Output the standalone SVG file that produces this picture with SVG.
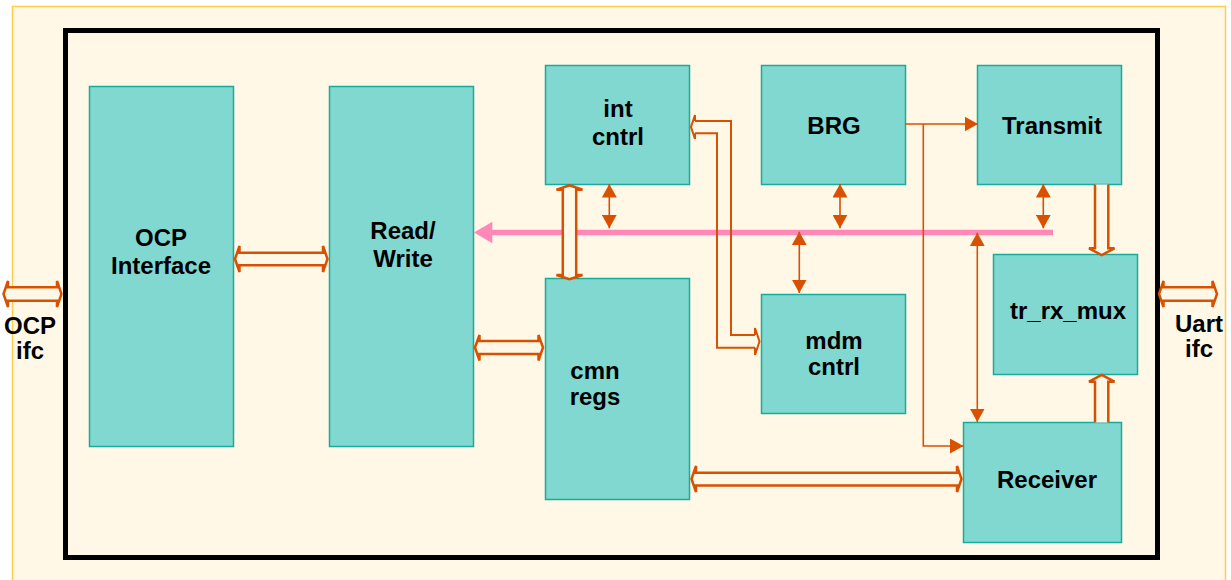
<svg xmlns="http://www.w3.org/2000/svg" width="1231" height="580" viewBox="0 0 1231 580">
<style>
.node rect{fill:#80D8D0;stroke:#18AC9C;stroke-width:1.5}
.lbl{font-family:"Liberation Sans",Arial,sans-serif;font-weight:bold;font-size:24px;fill:#000;text-anchor:middle}
.hol{fill:#FFF8E7;stroke:#D85000;stroke-width:2.5;stroke-linejoin:miter}
.thin{fill:none;stroke:#D85000;stroke-width:2}
.sol{fill:none;stroke:#D85000;stroke-width:1.6;marker-start:url(#tri);marker-end:url(#tri)}
.one{fill:none;stroke:#D85000;stroke-width:1.6;marker-end:url(#tri)}
</style>
<defs>
<marker id="tri" markerUnits="userSpaceOnUse" viewBox="0 0 13.5 15" refX="13.5" refY="7.5" markerWidth="13.5" markerHeight="15" orient="auto-start-reverse">
<path d="M0,0 L13.5,7.5 L0,15 Z" fill="#D85000"/>
</marker>
</defs>
<rect x="0" y="0" width="1231" height="580" fill="#FFFFFF"/>
<rect x="12.5" y="6.5" width="1213" height="600" fill="#FFF8E7" stroke="#FFCC50" stroke-width="1.5"/>
<rect x="65.5" y="30.5" width="1092" height="527" fill="none" stroke="#000" stroke-width="5"/>

<g id="ocp-interface" class="node"><rect x="89.5" y="86.5" width="144" height="360"/><text class="lbl" x="161" y="246">OCP</text><text class="lbl" x="161" y="274">Interface</text></g>
<g id="read-write" class="node"><rect x="329.5" y="86.5" width="144" height="360"/><text class="lbl" x="403" y="239">Read/</text><text class="lbl" x="403" y="267">Write</text></g>
<g id="int-cntrl" class="node"><rect x="545.5" y="65.5" width="144" height="119"/><text class="lbl" x="618" y="117">int</text><text class="lbl" x="618" y="145">cntrl</text></g>
<g id="cmn-regs" class="node"><rect x="545.5" y="278.5" width="144" height="221"/><text class="lbl" x="595" y="379">cmn</text><text class="lbl" x="595" y="405">regs</text></g>
<g id="brg" class="node"><rect x="761.5" y="65.5" width="144" height="119"/><text class="lbl" x="834" y="134">BRG</text></g>
<g id="mdm-cntrl" class="node"><rect x="761.5" y="294.5" width="144" height="119"/><text class="lbl" x="834" y="349">mdm</text><text class="lbl" x="834" y="375">cntrl</text></g>
<g id="transmit" class="node"><rect x="977.5" y="65.5" width="144" height="119"/><text class="lbl" x="1052" y="134">Transmit</text></g>
<g id="tr-rx-mux" class="node"><rect x="993.5" y="254.5" width="144" height="120"/><text class="lbl" x="1068" y="319">tr_rx_mux</text></g>
<g id="receiver" class="node"><rect x="963.5" y="422.5" width="158" height="120"/><text class="lbl" x="1047" y="488">Receiver</text></g>
<g id="ext-labels">
<text class="lbl" x="30" y="334">OCP</text><text class="lbl" x="30" y="359">ifc</text>
<text class="lbl" x="1199" y="332">Uart</text><text class="lbl" x="1199" y="357">ifc</text>
</g>

<g id="connectors">
<line x1="1053" y1="232.5" x2="490" y2="232.5" stroke="#FF88B8" stroke-width="5.5"/>
<polygon points="474,232.5 492.3,221.7 492.3,243.3" fill="#FF88B8"/>
<path class="hol" d="M3.5,294 L8,281 L8,287.2 L57,287.2 L57,281 L61.5,294 L57,307 L57,300.8 L8,300.8 L8,307 Z"/>
<path class="hol" d="M1159,294 L1163.5,281 L1163.5,287.2 L1212.5,287.2 L1212.5,281 L1217,294 L1212.5,307 L1212.5,300.8 L1163.5,300.8 L1163.5,307 Z"/>
<path class="hol" d="M235,259 L239.5,246 L239.5,252.7 L323,252.7 L323,246 L327.5,259 L323,272 L323,265.3 L239.5,265.3 L239.5,272 Z"/>
<path class="hol" d="M475,347.5 L479.5,335 L479.5,341 L538.5,341 L538.5,335 L543,347.5 L538.5,360.5 L538.5,354 L479.5,354 L479.5,360.5 Z"/>
<path class="hol" d="M691.5,479 L696,466 L696,472.7 L957,472.7 L957,466 L961.5,479 L957,492 L957,485.5 L696,485.5 L696,492 Z"/>
<path class="hol" d="M569.5,185.3 L582.5,189.8 L576.2,189.8 L576.2,275 L582.5,275 L569.5,279.3 L556.5,275 L562.8,275 L562.8,189.8 L556.5,189.8 Z"/>
<path class="hol" d="M1095,184.5 L1095,248.3 L1089,248.3 L1101.7,255 L1114.5,248.3 L1108.3,248.3 L1108.3,184.5"/>
<path class="hol" d="M1095,422.5 L1095,381.7 L1089,381.7 L1101.7,375 L1114.5,381.7 L1108.3,381.7 L1108.3,422.5"/>
<path class="thin" d="M695,121 L731,121 L731,335 L755,335"/>
<path class="thin" d="M695,133.3 L717,133.3 L717,347.7 L755,347.7"/>
<path class="thin" d="M695,121 L695,115 L691,127 L695,139 L695,133.3"/>
<path class="thin" d="M755,335 L755,328 L759.5,341.5 L755,355 L755,347.7"/>
<line class="sol" x1="609.3" y1="184" x2="609.3" y2="228.3"/>
<line class="sol" x1="840" y1="184" x2="840" y2="228.3"/>
<line class="sol" x1="799.3" y1="231.7" x2="799.3" y2="293"/>
<line class="sol" x1="1043.3" y1="184" x2="1043.3" y2="228.3"/>
<line class="sol" x1="977.3" y1="232.7" x2="977.3" y2="422"/>
<line class="one" x1="905.5" y1="124" x2="978" y2="124"/>
<path class="one" d="M923.3,124 L923.3,446 L963.5,446"/>
</g>
</svg>
